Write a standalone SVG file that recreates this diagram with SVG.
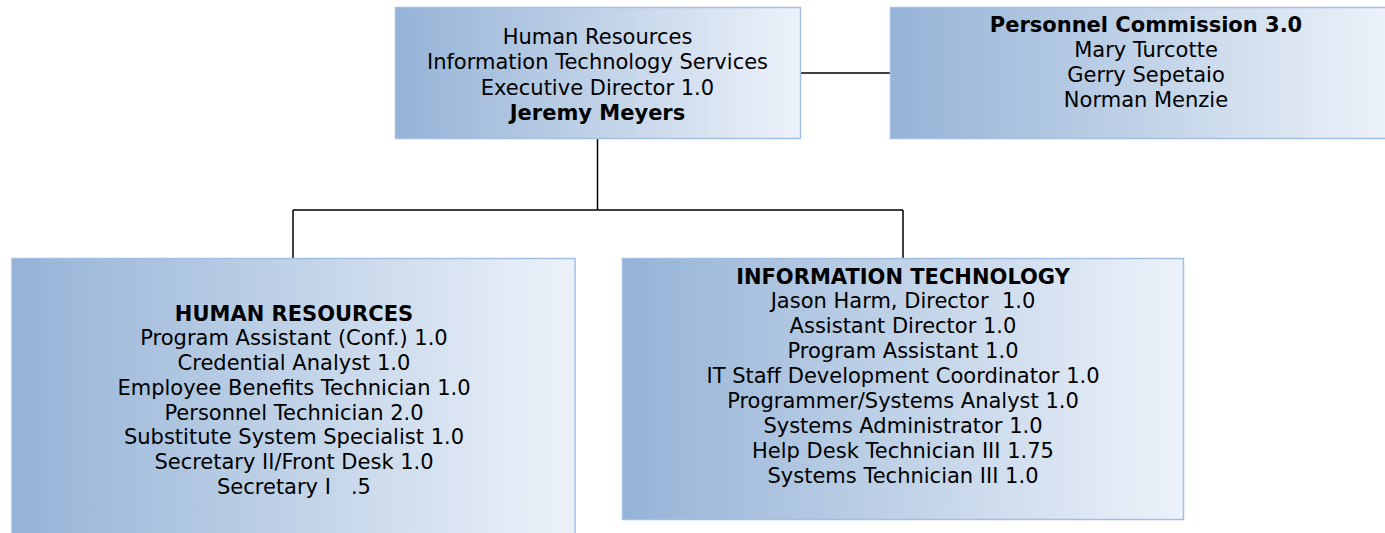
<svg xmlns="http://www.w3.org/2000/svg" width="1385" height="533" viewBox="0 0 1385 533">
<defs>
<linearGradient id="g" x1="0" y1="0" x2="1" y2="0">
<stop offset="0" stop-color="#95b3d7"/>
<stop offset="0.5" stop-color="#c0d2e7"/>
<stop offset="1" stop-color="#edf2fa"/>
</linearGradient>
<style>
.box{fill:url(#g);stroke:#a3bfe2;stroke-width:1.5}
.t{font-family:"DejaVu Sans",Verdana,sans-serif;font-size:21px;fill:#000;text-anchor:middle}
.b{font-weight:bold}
.c{fill:none;stroke:#000;stroke-width:1.5}
</style>
</defs>
<rect width="1385" height="533" fill="#fff"/>
<g id="connectors">
<path class="c" d="M800 73H890"/>
<path class="c" d="M597.5 138V210"/>
<path class="c" d="M293 210H903"/>
<path class="c" d="M293 210V258"/>
<path class="c" d="M903 210V258"/>
</g>
<g id="exec">
<rect class="box" x="395.5" y="7.5" width="405" height="131"/>
<text class="t" x="597.5" y="44">Human Resources</text>
<text class="t" x="597.5" y="69">Information Technology Services</text>
<text class="t" x="597.5" y="94.5">Executive Director 1.0</text>
<text class="t b" x="597.5" y="120">Jeremy Meyers</text>
</g>
<g id="commission">
<rect class="box" x="890.5" y="7.5" width="500" height="131"/>
<text class="t b" x="1146" y="32">Personnel Commission 3.0</text>
<text class="t" x="1146" y="57">Mary Turcotte</text>
<text class="t" x="1146" y="82">Gerry Sepetaio</text>
<text class="t" x="1146" y="107">Norman Menzie</text>
</g>
<g id="hr">
<rect class="box" x="12" y="258.5" width="563" height="290"/>
<text class="t b" x="294" y="320.5">HUMAN RESOURCES</text>
<text class="t" x="294" y="345">Program Assistant (Conf.) 1.0</text>
<text class="t" x="294" y="370">Credential Analyst 1.0</text>
<text class="t" x="294" y="394.5">Employee Benefits Technician 1.0</text>
<text class="t" x="294" y="419.5">Personnel Technician 2.0</text>
<text class="t" x="294" y="444">Substitute System Specialist 1.0</text>
<text class="t" x="294" y="468.5">Secretary II/Front Desk 1.0</text>
<text class="t" x="294" y="493.5" xml:space="preserve">Secretary I   .5</text>
</g>
<g id="it">
<rect class="box" x="622.5" y="258.5" width="561" height="261"/>
<text class="t b" x="903" y="283.5">INFORMATION TECHNOLOGY</text>
<text class="t" x="903" y="307.5" xml:space="preserve">Jason Harm, Director  1.0</text>
<text class="t" x="903" y="332.5">Assistant Director 1.0</text>
<text class="t" x="903" y="357.5">Program Assistant 1.0</text>
<text class="t" x="903" y="382.5">IT Staff Development Coordinator 1.0</text>
<text class="t" x="903" y="407.5">Programmer/Systems Analyst 1.0</text>
<text class="t" x="903" y="432.5">Systems Administrator 1.0</text>
<text class="t" x="903" y="458">Help Desk Technician III 1.75</text>
<text class="t" x="903" y="483">Systems Technician III 1.0</text>
</g>
</svg>
